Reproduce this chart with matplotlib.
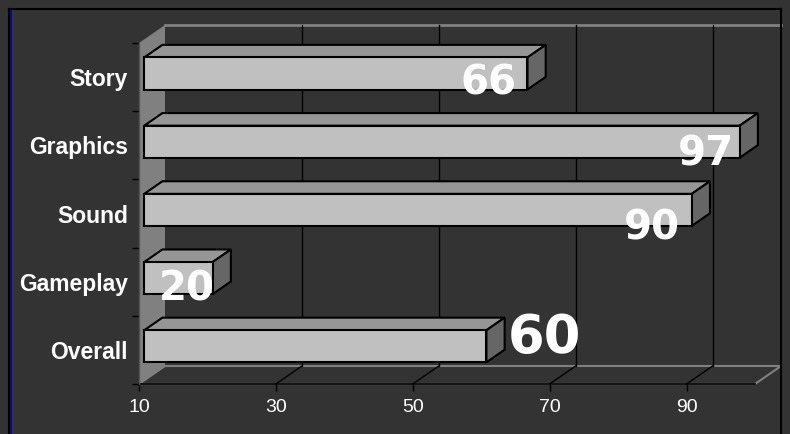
import matplotlib
matplotlib.use("Agg")
import matplotlib.pyplot as plt
from matplotlib.patches import Polygon
from matplotlib.lines import Line2D

categories = ["Overall", "Gameplay", "Sound", "Graphics", "Story"]
scores = [60, 20, 90, 97, 66]
x_ticks = [10, 30, 50, 70, 90]

BG = "#333333"
W, H = 790, 434

# 3d look: depth of the box in data units
DX, DY = 3.8, 0.264
d0, d1 = 0.2, 0.9
half = 0.235
XMIN, XMAX = 10, 100

fig = plt.figure(figsize=(W / 100, H / 100), dpi=100, facecolor=BG)
ax = fig.add_axes([139 / W, 1 - 384 / H, (755 - 139) / W, (384 - 43) / H])
ax.set_facecolor("none")
ax.set_xlim(XMIN, XMAX)
ax.set_ylim(-0.5, 4.5)
for s in ax.spines.values():
    s.set_visible(False)

top = len(categories) - 0.5
bot = -0.5

# left wall
ax.add_patch(Polygon([(XMIN, bot), (XMIN + DX, bot + DY), (XMIN + DX, top + DY), (XMIN, top)],
                     closed=True, facecolor="#808080", edgecolor="none", clip_on=False, zorder=1))
# floor
ax.add_patch(Polygon([(XMIN, bot), (XMAX, bot), (XMAX + DX, bot + DY), (XMIN + DX, bot + DY)],
                     closed=True, facecolor=BG, edgecolor="#808080", lw=1.5, clip_on=False, zorder=1))
# back wall top edge
ax.plot([XMIN + DX, XMAX + DX], [top + DY, top + DY], color="#808080", lw=2, clip_on=False, zorder=1)
# gridlines on back wall and floor
for t in x_ticks[1:]:
    ax.plot([t + DX, t + DX], [bot + DY, top + DY], color="black", lw=1, clip_on=False, zorder=1)
    ax.plot([t, t + DX], [bot, bot + DY], color="black", lw=1, clip_on=False, zorder=1)
# front axes lines
ax.plot([XMIN, XMAX], [bot, bot], color="black", lw=1.2, clip_on=False, zorder=2)
ax.plot([XMIN, XMIN], [bot, top], color="#555555", lw=1, clip_on=False, zorder=2)

# bars
ys = list(range(len(categories)))
ox0, oy0 = d0 * DX, d0 * DY
ox1, oy1 = d1 * DX, d1 * DY
ax.barh([y + oy0 for y in ys], [v - XMIN for v in scores], left=XMIN + ox0, height=2 * half,
        color="#C0C0C0", edgecolor="black", lw=1.5, zorder=4)
for y, v in zip(ys, scores):
    topface = [(XMIN + ox0, y + half + oy0), (v + ox0, y + half + oy0),
               (v + ox1, y + half + oy1), (XMIN + ox1, y + half + oy1)]
    side = [(v + ox0, y - half + oy0), (v + ox1, y - half + oy1),
            (v + ox1, y + half + oy1), (v + ox0, y + half + oy0)]
    ax.add_patch(Polygon(topface, closed=True, facecolor="#969696", edgecolor="black",
                         lw=1.5, zorder=3, clip_on=False))
    ax.add_patch(Polygon(side, closed=True, facecolor="#666666", edgecolor="black",
                         lw=1.5, zorder=3, clip_on=False))

# value labels
label_dx = [9.3, -3.0, -5.0, -4.2, -5.0]
label_dy = [0.18, -0.12, -0.22, -0.13, -0.10]
label_fs = [38, 29, 29, 29, 29]
for y, v, dx, dy, fs in zip(ys, scores, label_dx, label_dy, label_fs):
    ax.text(v + dx, y + dy, str(v), color="white", fontsize=fs, fontweight="heavy",
            family="DejaVu Sans", ha="center", va="center", zorder=10, clip_on=False)

# axes ticks
ax.set_yticks(ys)
ax.set_yticklabels(categories, color="white", fontsize=16.5, fontweight="bold", family="Liberation Sans")
ax.tick_params(axis="y", which="major", length=0, pad=8)
ax.set_yticks([y + 0.5 for y in [-1] + ys], minor=True)
ax.tick_params(axis="y", which="minor", length=5, color="black", width=1)
ax.set_xticks(x_ticks)
ax.set_xticklabels([str(t) for t in x_ticks], color="white", fontsize=14, family="Liberation Sans")
ax.tick_params(axis="x", length=5, color="black", width=1, pad=6)

# outer frame
fig.add_artist(Line2D([9 / W, 9 / W], [0, 1 - 9 / H], color="black", lw=1.5, transform=fig.transFigure))
fig.add_artist(Line2D([10.5 / W, 10.5 / W], [0, 1 - 10 / H], color="#0000AA", lw=1.2, transform=fig.transFigure))
fig.add_artist(Line2D([9 / W, 781 / W], [1 - 9 / H, 1 - 9 / H], color="black", lw=1.5, transform=fig.transFigure))
fig.add_artist(Line2D([781 / W, 781 / W], [0, 1 - 9 / H], color="black", lw=1.5, transform=fig.transFigure))

fig.savefig("out.png", dpi=100, facecolor=BG)
